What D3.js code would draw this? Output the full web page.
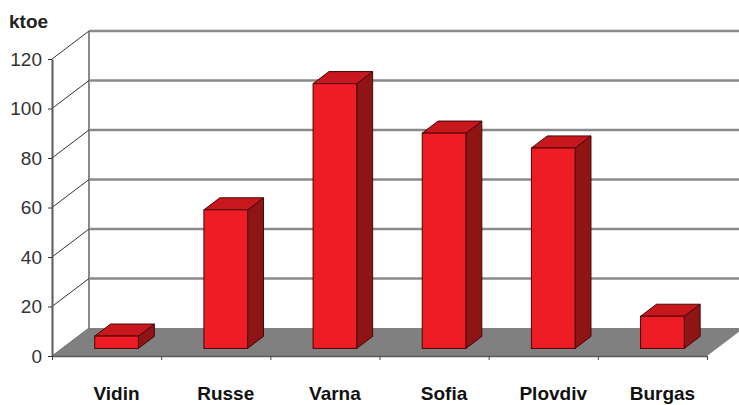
<!DOCTYPE html>
<html>
<head>
<meta charset="utf-8">
<script src="https://cdn.jsdelivr.net/npm/d3@7"></script>
<style>
body{margin:0;background:#fff;}
svg{display:block;}
.tick text{font-family:"Liberation Sans",Arial,sans-serif;}
</style>
</head>
<body>
<svg></svg>
<script>
var width = 739;
var height = 405;
//data
var cities = ["Vidin","Russe","Varna","Sofia","Plovdiv","Burgas"];
var values = [5,56,107,87,81,13];
var yTicks = [0,20,40,60,80,100,120];
var unit = "ktoe";

//3d depth offsets
var depthX = 37, depthY = -28;
var barFront = 0.27, barBack = 0.70;
var left = 52, right = 707;

var svg = d3.select("svg")
    .attr("width",width)
    .attr("height",height);

//scale for values on the front plane
var yScale = d3.scaleLinear()
    .domain([0,120])
    .range([356,59]);
//scale for the categories
var xScale = d3.scaleBand()
    .domain(cities)
    .range([left,right])
    .paddingInner(0.6)
    .paddingOuter(0.3);
//scale for the category boundaries
var xEdge = d3.scaleLinear()
    .domain([0,cities.length])
    .range([left,right]);

function px(x,d){ return x + depthX*d; }
function py(y,d){ return y + depthY*d; }

//floor
var y0 = yScale(0);
svg.append("polygon")
    .attr("points",[[left,y0],[right,y0],[px(right,1),py(y0,1)],[px(left,1),py(y0,1)]].join(" "))
    .attr("fill","#808080");

//back wall gridlines
svg.append("g")
    .selectAll("line")
    .data(yTicks.slice(1))
    .enter()
    .append("line")
        .attr("x1",px(left,1))
        .attr("x2",width)
        .attr("y1",d => py(yScale(d),1))
        .attr("y2",d => py(yScale(d),1))
        .attr("stroke","#8a8a8a")
        .attr("stroke-width",2.5);

//left wall back edge
svg.append("line")
    .attr("x1",px(left,1)).attr("x2",px(left,1))
    .attr("y1",py(yScale(120),1)).attr("y2",py(y0,1))
    .attr("stroke","#8a8a8a")
    .attr("stroke-width",2);

//left wall diagonals
svg.append("g")
    .selectAll("line")
    .data(yTicks)
    .enter()
    .append("line")
        .attr("x1",left)
        .attr("x2",px(left,1))
        .attr("y1",d => yScale(d))
        .attr("y2",d => py(yScale(d),1))
        .attr("stroke",d => d === 0 ? "#6e6e6e" : "#333")
        .attr("stroke-width",1);

//bars
var bw = xScale.bandwidth();
var bars = svg.append("g")
    .selectAll("g")
    .data(cities)
    .enter()
    .append("g");

bars.append("polygon")//side face
    .attr("points",(d,i) => {
        var x = xScale(d)+bw, top = yScale(values[i]);
        return [[px(x,barFront),py(y0,barFront)],[px(x,barBack),py(y0,barBack)],
                [px(x,barBack),py(top,barBack)],[px(x,barFront),py(top,barFront)]].join(" ");
    })
    .attr("fill","#8e1416")
    .attr("stroke","#4a0606")
    .attr("stroke-width",1);

bars.append("polygon")//top face
    .attr("points",(d,i) => {
        var x = xScale(d), top = yScale(values[i]);
        return [[px(x,barFront),py(top,barFront)],[px(x+bw,barFront),py(top,barFront)],
                [px(x+bw,barBack),py(top,barBack)],[px(x,barBack),py(top,barBack)]].join(" ");
    })
    .attr("fill","#c8181e")
    .attr("stroke","#4a0606")
    .attr("stroke-width",1);

bars.append("rect")//front face
    .attr("x",d => px(xScale(d),barFront))
    .attr("y",(d,i) => py(yScale(values[i]),barFront))
    .attr("width",bw)
    .attr("height",(d,i) => y0 - yScale(values[i]))
    .attr("fill","#ee1c25")
    .attr("stroke","#4a0606")
    .attr("stroke-width",1);

//y axis
var yAxis = d3.axisLeft(yScale)
    .tickValues(yTicks)
    .tickSize(4)
    .tickPadding(6)
    .tickSizeOuter(0);
var gy = svg.append("g")
    .attr("transform","translate("+left+",0)")
    .call(yAxis);
gy.select(".domain").attr("stroke","#5a5a5a").attr("stroke-width",2);
gy.selectAll(".tick line").attr("stroke","#333");
gy.selectAll(".tick text")
    .style("font-size","19px")
    .attr("fill","#333");

//x axis ticks at category boundaries
var xAxis = d3.axisBottom(xEdge)
    .tickValues(d3.range(cities.length+1))
    .tickFormat("")
    .tickSize(4)
    .tickSizeOuter(0);
var gx = svg.append("g")
    .attr("transform","translate(0,"+y0+")")
    .call(xAxis);
gx.select(".domain").attr("stroke","#5a5a5a").attr("stroke-width",1.5);
gx.selectAll(".tick line").attr("stroke","#444");

//category labels
svg.append("g")
    .selectAll("text")
    .data(cities)
    .enter()
    .append("text")
        .attr("x",d => px(xScale(d)+bw/2,barFront))
        .attr("y",400)
        .attr("text-anchor","middle")
        .style("font-family","'Liberation Sans',Arial,sans-serif")
        .style("font-weight","bold")
        .style("font-size","19px")
        .attr("fill","#111")
        .text(d => d);

//unit label
svg.append("text")
    .attr("x",9)
    .attr("y",28)
    .style("font-family","'Liberation Sans',Arial,sans-serif")
    .style("font-weight","bold")
    .style("font-size","19px")
    .attr("fill","#222")
    .text(unit);
</script>
</body>
</html>
